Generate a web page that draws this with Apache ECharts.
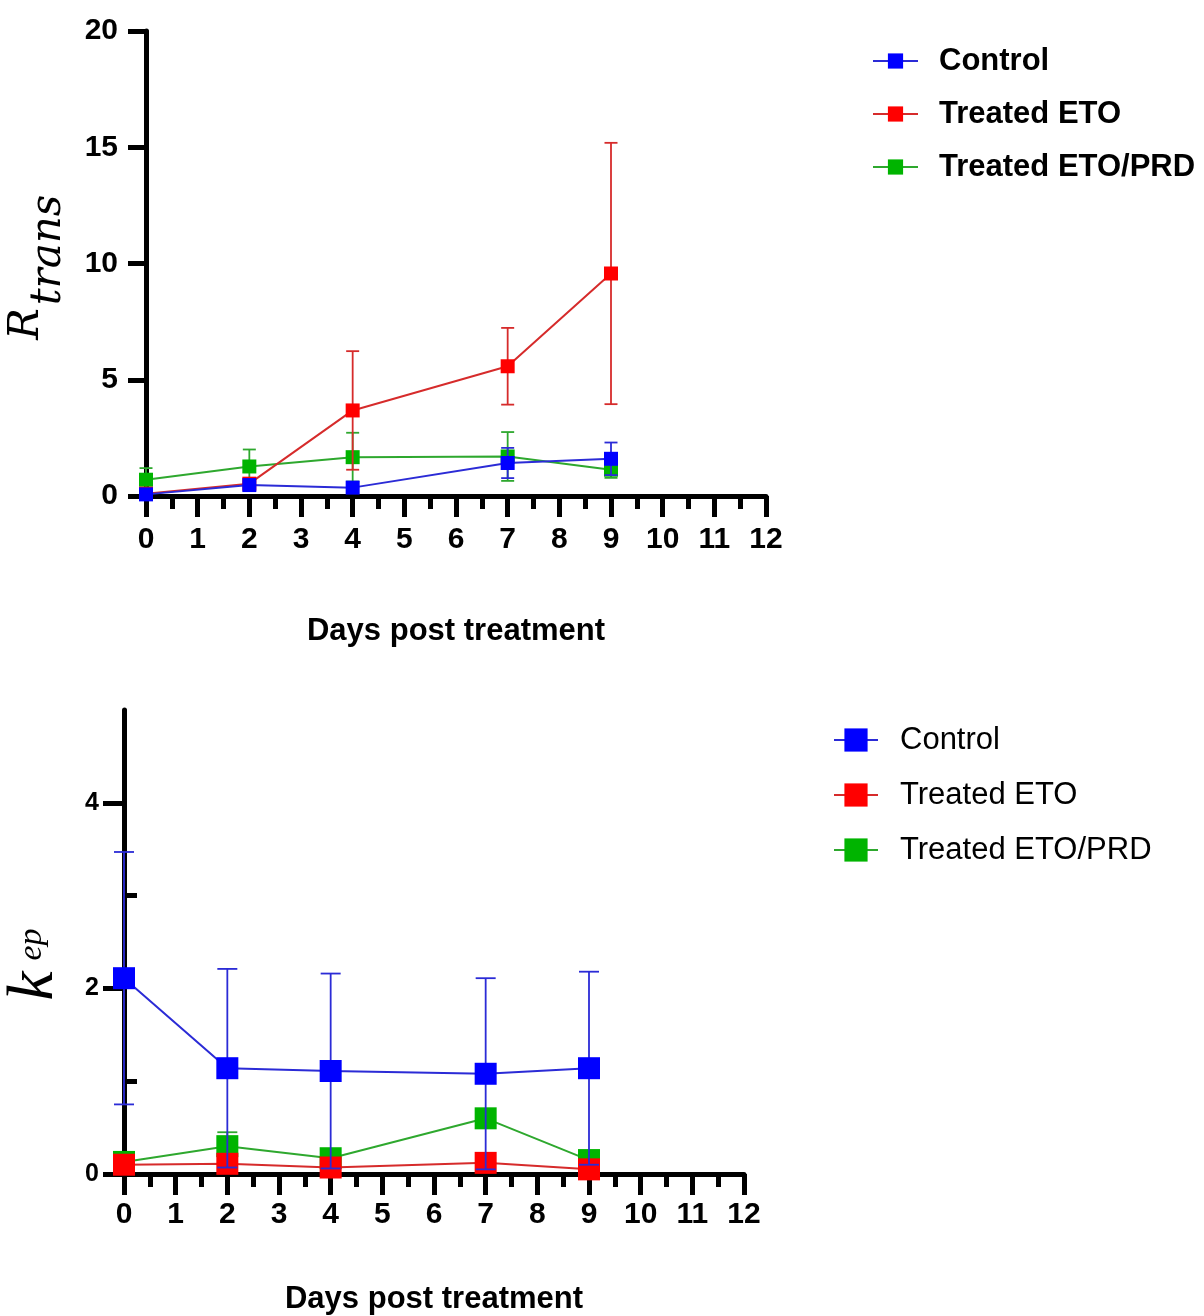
<!DOCTYPE html>
<html>
<head>
<meta charset="utf-8">
<script src="https://cdn.jsdelivr.net/npm/echarts@6/dist/echarts.min.js"></script>
<style>
html,body{margin:0;padding:0;background:#fff;}
#chart{width:1204px;height:1316px;}
</style>
</head>
<body>
<div id="chart"></div>
<script>
// ---- data ----
const days = [0, 2, 4, 7, 9];
const seriesNames = ['Control', 'Treated ETO', 'Treated ETO/PRD'];
const xTicks = [0,1,2,3,4,5,6,7,8,9,10,11,12];

// R_trans (top panel)
const rtransControl    = [0.07, 0.47, 0.36, 1.42, 1.60];
const rtransControlErr = [0, 0, 0, 0.65, 0.70];
const rtransETO        = [0.10, 0.53, 3.68, 5.58, 9.57];
const rtransETOErr     = [0, 0, 2.55, 1.65, 5.62];
const rtransPRD        = [0.70, 1.27, 1.67, 1.70, 1.13];
const rtransPRDErr     = [0.50, 0.73, 1.05, 1.05, 0.35];
const rtransTicks = [0, 5, 10, 15, 20];

// k_ep (bottom panel)
const kepControl    = [2.11, 1.14, 1.11, 1.08, 1.14];
const kepControlErr = [1.36, 1.07, 1.05, 1.03, 1.04];
const kepETO        = [0.10, 0.11, 0.07, 0.12, 0.05];
const kepETOErr     = [0, 0, 0, 0, 0];
const kepPRD        = [0.13, 0.30, 0.17, 0.60, 0.15];
const kepPRDErr     = [0, 0.15, 0, 0, 0];
const kepMajorTicks = [0, 2, 4];
const kepMinorTicks = [1, 3];

// ---- styling ----
const FONT = 'Liberation Sans';
const SERIF = 'DejaVu Serif';
const marker = {Control:'#0000ff', 'Treated ETO':'#ff0000', 'Treated ETO/PRD':'#00b400'};
const lineC  = {Control:'#2b2bd6', 'Treated ETO':'#d62b2b', 'Treated ETO/PRD':'#2ea82e'};
const zOrder = {'Treated ETO/PRD':2, 'Treated ETO':4, Control:6};

function pts(vals){ return days.map((d,i)=>[d, vals[i]]); }
function errPts(vals, errs){
  const out = [];
  days.forEach((d,i)=>{ if(errs[i] > 0) out.push([d, vals[i]-errs[i], vals[i]+errs[i]]); });
  return out;
}
function lineSeries(name, gi, vals, size){
  return {
    type:'line', name, xAxisIndex:gi, yAxisIndex:gi===0?0:1,
    data: pts(vals), symbol:'rect', symbolSize:size, z: zOrder[name]+1,
    itemStyle:{color:marker[name]}, lineStyle:{color:lineC[name], width:2},
    emphasis:{disabled:true}
  };
}
function errSeries(name, gi, vals, errs, cap){
  const color = lineC[name];
  return {
    type:'custom', name: name + ' err', xAxisIndex:gi, yAxisIndex:gi===0?0:1,
    z: zOrder[name], silent:true,
    data: errPts(vals, errs),
    encode:{x:0, y:[1,2]},
    renderItem:(params, api)=>{
      const lo = api.coord([api.value(0), api.value(1)]);
      const hi = api.coord([api.value(0), api.value(2)]);
      const st = {stroke:color, lineWidth:1.8};
      return {type:'group', children:[
        {type:'line', shape:{x1:lo[0],y1:lo[1],x2:hi[0],y2:hi[1]}, style:st},
        {type:'line', shape:{x1:hi[0]-cap/2,y1:hi[1],x2:hi[0]+cap/2,y2:hi[1]}, style:st},
        {type:'line', shape:{x1:lo[0]-cap/2,y1:lo[1],x2:lo[0]+cap/2,y2:lo[1]}, style:st}
      ]};
    }
  };
}

const axisLine = {show:true, onZero:false, lineStyle:{color:'#000', width:5}};
function xAxis(gi, gap, labelMargin){
  return {
    type:'value', gridIndex:gi, min:xTicks[0], max:xTicks[xTicks.length-1], interval:1,
    axisLine, splitLine:{show:false},
    axisTick:{show:true, length:21, lineStyle:{color:'#000', width:5}},
    minorTick:{show:true, splitNumber:2, length:13, lineStyle:{color:'#000', width:5}},
    axisLabel:{fontFamily:FONT, fontWeight:'bold', fontSize:30, color:'#000', margin:labelMargin},
    name:'Days post treatment', nameLocation:'middle', nameGap:gap,
    nameTextStyle:{fontFamily:FONT, fontWeight:'bold', fontSize:31, color:'#000'}
  };
}

const option = {
  animation:false,
  backgroundColor:'#fff',
  grid:[
    {left:146, top:31, width:620, height:465},
    {left:124, top:710, width:620, height:465}
  ],
  xAxis:[ xAxis(0, 120, 29), xAxis(1, 110, 26) ],
  yAxis:[
    {type:'value', gridIndex:0, min:rtransTicks[0], max:rtransTicks[rtransTicks.length-1], interval:5,
     axisLine, splitLine:{show:false},
     axisTick:{show:true, length:18, lineStyle:{color:'#000', width:5}},
     axisLabel:{fontFamily:FONT, fontWeight:'bold', fontSize:30, color:'#000', margin:28}},
    {type:'value', gridIndex:1, min:0, max:5, interval:1,
     axisLine, splitLine:{show:false},
     axisTick:{show:true, length:21, customValues:kepMajorTicks, lineStyle:{color:'#000', width:5}},
     axisLabel:{fontFamily:FONT, fontWeight:'bold', fontSize:25, color:'#000', margin:25, customValues:kepMajorTicks}},
    {type:'value', gridIndex:1, min:0, max:5, interval:1,
     axisLine:{show:false}, splitLine:{show:false},
     axisTick:{show:true, length:13, customValues:kepMinorTicks, lineStyle:{color:'#000', width:5}},
     axisLabel:{show:false}}
  ],
  legend:[
    {orient:'vertical', left:872, top:45.5, padding:0, itemWidth:45, itemHeight:19, itemGap:22,
     selectedMode:false, data:seriesNames,
     textStyle:{fontFamily:FONT, fontWeight:'bold', fontSize:31, color:'#000', padding:[0,0,0,16]}},
    {orient:'vertical', left:833, top:724.5, padding:0, itemWidth:44, itemHeight:29, itemGap:24,
     selectedMode:false, data:seriesNames,
     textStyle:{fontFamily:FONT, fontSize:31, color:'#000', padding:[0,0,0,17]}}
  ],
  graphic:[
    {type:'text', x:27.5, y:324, rotation:Math.PI/2, silent:true,
     style:{text:'R', font:'italic 42px "DejaVu Serif"', fill:'#000', align:'center', verticalAlign:'middle'}},
    {type:'text', x:49, y:250, rotation:Math.PI/2, silent:true,
     style:{text:'trans', font:'italic 42px "DejaVu Serif"', fill:'#000', align:'center', verticalAlign:'middle'}},
    {type:'text', x:35, y:986, rotation:Math.PI/2, silent:true,
     style:{text:'k', font:'italic 66px "Liberation Serif"', fill:'#000', align:'center', verticalAlign:'middle'}},
    {type:'text', x:32, y:944.5, rotation:Math.PI/2, silent:true,
     style:{text:'ep', font:'italic 34px "Liberation Serif"', fill:'#000', align:'center', verticalAlign:'middle'}}
  ],
  series:[
    lineSeries('Control', 0, rtransControl, 14),
    lineSeries('Treated ETO', 0, rtransETO, 14),
    lineSeries('Treated ETO/PRD', 0, rtransPRD, 14),
    errSeries('Control', 0, rtransControl, rtransControlErr, 13),
    errSeries('Treated ETO', 0, rtransETO, rtransETOErr, 13),
    errSeries('Treated ETO/PRD', 0, rtransPRD, rtransPRDErr, 13),
    lineSeries('Control', 1, kepControl, 22),
    lineSeries('Treated ETO', 1, kepETO, 22),
    lineSeries('Treated ETO/PRD', 1, kepPRD, 22),
    errSeries('Control', 1, kepControl, kepControlErr, 20),
    errSeries('Treated ETO', 1, kepETO, kepETOErr, 20),
    errSeries('Treated ETO/PRD', 1, kepPRD, kepPRDErr, 20)
  ]
};

const chart = echarts.init(document.getElementById('chart'), null, {renderer:'canvas'});
chart.setOption(option);
</script>
</body>
</html>
